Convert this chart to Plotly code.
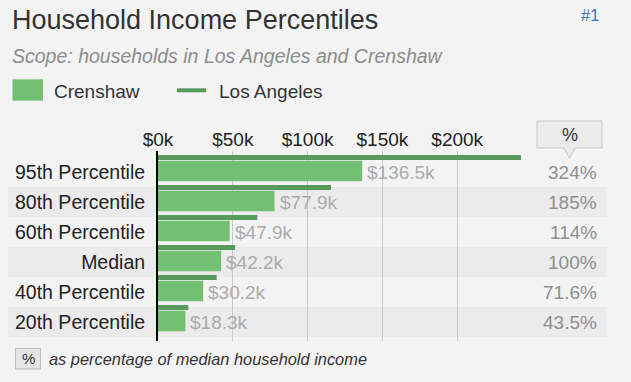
import plotly.graph_objects as go

# ---------------- data ----------------
categories = ["95th Percentile", "80th Percentile", "60th Percentile",
              "Median", "40th Percentile", "20th Percentile"]
crenshaw = [136.5, 77.9, 47.9, 42.2, 30.2, 18.3]          # $k
los_angeles = [242.6, 115.6, 66.4, 51.5, 39.2, 20.3]      # $k
value_labels = ["$136.5k", "$77.9k", "$47.9k", "$42.2k", "$30.2k", "$18.3k"]
pct_labels = ["324%", "185%", "114%", "100%", "71.6%", "43.5%"]
tick_vals = [0, 50, 100, 150, 200]
tick_text = ["$0k", "$50k", "$100k", "$150k", "$200k"]

# ---------------- geometry / style ----------------
W, H = 631, 382
L, R, T, B = 158, 540, 151, 341
PX_PER_K = 1.496
FONT = "Liberation Sans, Arial, sans-serif"
LIGHT = "#73c073"
DARK = "#58995c"
BG = "#f3f3f3"


def px(p):
    return (p - L) / (R - L)


def py(p):
    return (B - p) / (B - T)


fig = go.Figure()
fig.add_bar(y=categories, x=los_angeles, orientation="h", name="Los Angeles",
            marker=dict(color=DARK, line=dict(width=0)),
            width=5 / 30, offset=-17 / 30)
fig.add_bar(y=categories, x=crenshaw, orientation="h", name="Crenshaw",
            marker=dict(color=LIGHT, line=dict(width=0)),
            width=0.687, offset=-0.377)

shapes = []
for k in (1, 3, 5):
    shapes.append(dict(type="rect", xref="paper", yref="y", x0=px(8), x1=px(607),
                       y0=k - 0.5, y1=k + 0.5, fillcolor="#ebebeb",
                       line=dict(width=0), layer="below"))
# legend swatches
shapes.append(dict(type="rect", xref="paper", yref="paper", x0=px(12.5), x1=px(43),
                   y0=py(100.7), y1=py(79.3), fillcolor=LIGHT, line=dict(width=0)))
shapes.append(dict(type="rect", xref="paper", yref="paper", x0=px(177), x1=px(206),
                   y0=py(92.3), y1=py(88.3), fillcolor=DARK, line=dict(width=0)))
# header "%" callout box
pts = [(537, 121), (602, 121), (602, 148), (575, 148), (569.5, 158), (564, 148), (537, 148)]
path = "M " + " L ".join(f"{px(x):.5f},{py(y):.5f}" for x, y in pts) + " Z"
shapes.append(dict(type="path", xref="paper", yref="paper", path=path,
                   fillcolor="#ebebeb", line=dict(color="#c6c6c6", width=1)))
# footer "%" box
shapes.append(dict(type="rect", xref="paper", yref="paper", x0=px(15.5), x1=px(40.5),
                   y0=py(369), y1=py(348.5), fillcolor="#e4e4e4",
                   line=dict(color="#bdbdbd", width=1)))

ann = []


def note(text, x, y, size, color, xanchor="left", xref="paper", yref="paper", **kw):
    d = dict(text=text, x=x, y=y, xref=xref, yref=yref, xanchor=xanchor,
             yanchor="middle", showarrow=False, borderpad=0, borderwidth=0,
             font=dict(family=FONT, size=size, color=color))
    d.update(kw)
    ann.append(d)


note("Household Income Percentiles", px(12), py(20), 27, "#333333")
note("#1", px(599), py(15), 16.5, "#3a78b5", xanchor="right")
note("<i>Scope: households in Los Angeles and Crenshaw</i>", px(12), py(56.5), 19.5, "#8c8c8c")
note("Crenshaw", px(54), py(91.5), 19, "#333333")
note("Los Angeles", px(219), py(91.5), 19, "#333333")
note("%", px(569.5), py(135), 18, "#333333", xanchor="center")
note("%", px(28), py(358.5), 15, "#333333", xanchor="center")
note("<i>as percentage of median household income</i>", px(49), py(359), 16.4, "#333333")

for c, v, lab, pct in zip(categories, crenshaw, value_labels, pct_labels):
    note(lab, v, c, 19, "#ababab", xref="x", yref="y", xshift=5)
    note(pct, px(597), c, 19, "#8f8f8f", xanchor="right", yref="y")

fig.update_layout(
    width=W, height=H,
    margin=dict(l=L, r=W - R, t=T, b=H - B, pad=0),
    paper_bgcolor=BG, plot_bgcolor="rgba(0,0,0,0)",
    barmode="overlay", showlegend=False,
    font=dict(family=FONT, color="#222222"),
    shapes=shapes, annotations=ann,
    xaxis=dict(side="top", range=[0, (R - L) / PX_PER_K], tickvals=tick_vals,
               ticktext=tick_text, showgrid=True, gridcolor="#c9c9c9", gridwidth=1,
               zeroline=False, showline=False, ticks="",
               tickfont=dict(family=FONT, size=19, color="#222222"), fixedrange=True),
    yaxis=dict(type="category", categoryorder="array", categoryarray=categories,
               range=[5.633, -0.7], showgrid=False, zeroline=False,
               showline=True, linecolor="#000000", linewidth=2, ticks="",
               ticklabelstandoff=7,
               tickfont=dict(family=FONT, size=19.5, color="#222222"), fixedrange=True),
)

fig.write_html(
    "out.html",
    config={"displayModeBar": False},
    post_script="document.body.style.margin='0';document.body.style.background='#f3f3f3';",
)
